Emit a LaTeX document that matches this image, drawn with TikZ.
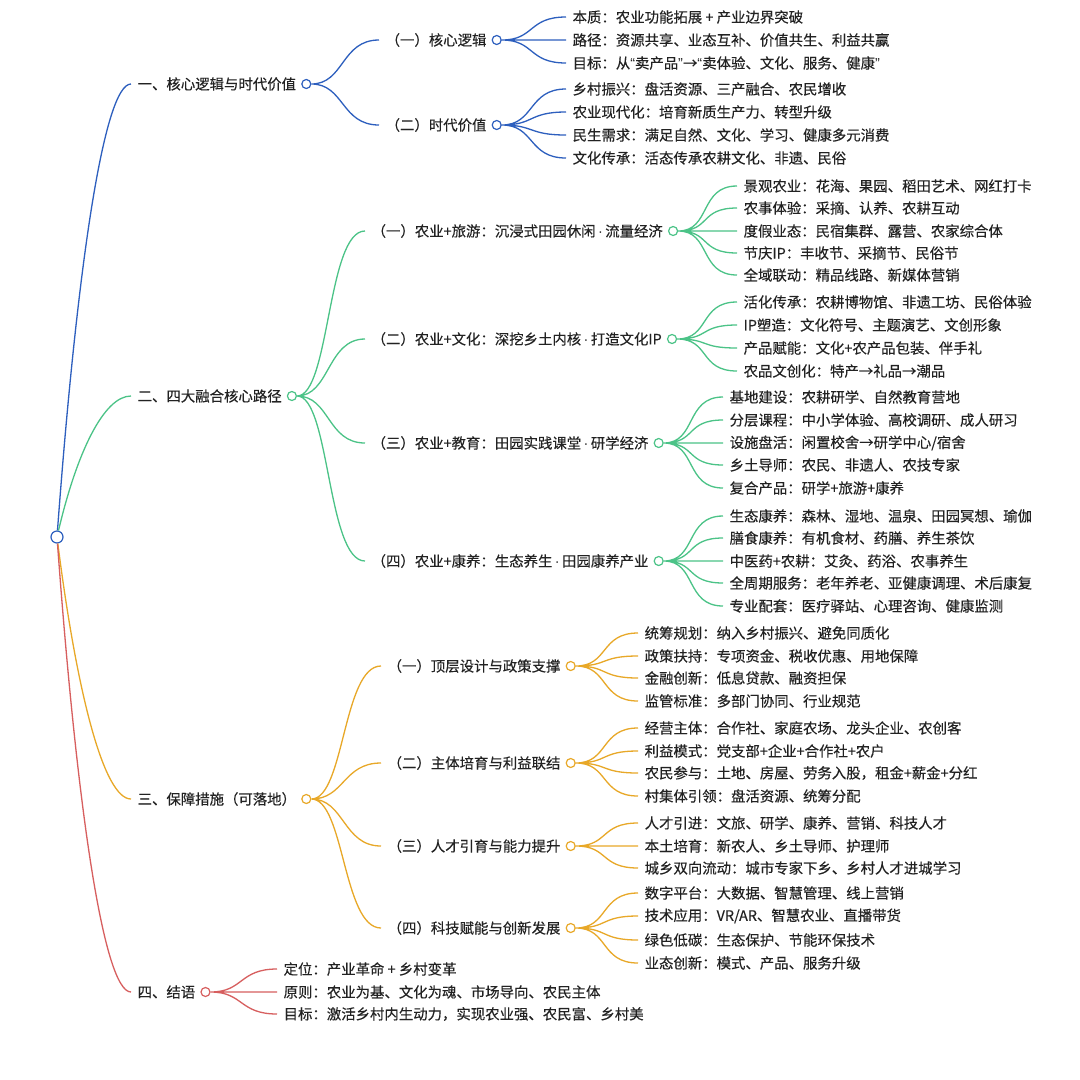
\documentclass[tikz,border=0pt]{standalone}
\usepackage{fontspec}
\setmainfont{Noto Sans CJK SC}[FakeBold=0.25]
\newfontfamily\latinfont{Liberation Sans}
\usepackage{tikz}
\usetikzlibrary{positioning}
\definecolor{mapblue}{RGB}{45,95,190}
\definecolor{mapgreen}{RGB}{75,195,135}
\definecolor{maporange}{RGB}{232,168,40}
\definecolor{mapred}{RGB}{215,95,95}
\definecolor{mapink}{RGB}{34,34,34}
\newcommand{\mdot}{{\latinfont\,·\,}}

\begin{document}
\begin{tikzpicture}[x=1pt,y=-1pt,line width=1.3pt,
  every node/.style={text=mapink,font=\fontsize{14.4}{16}\selectfont},
  txt/.style={anchor=west,inner xsep=6pt,inner ysep=1pt},
  knob/.style={circle,draw=#1,fill=white,line width=1.2pt,minimum size=9pt,inner sep=0pt},
  fan/.style={to path={.. controls +(38,0) and +(-38,0) .. (\tikztotarget)}}]
  \fill[white](0,0)rectangle(1080,1080);
  \useasboundingbox(0,0)rectangle(1080,1080);

  \node[knob=mapblue,minimum size=12pt] (root) at (57,537) {};

  \node[txt] (a) at (131,84) {一、核心逻辑与时代价值};
  \node[knob=mapblue,right=-1.5pt of a] (ao) {};
  \node[txt] (a1) at (379,40) {（一）核心逻辑};
  \node[knob=mapblue,right=-1.5pt of a1] (a1o) {};
  \node[txt] (a2) at (379,125) {（二）时代价值};
  \node[knob=mapblue,right=-1.5pt of a2] (a2o) {};
  \node[txt] (a11) at (566,17) {本质：农业功能拓展 + 产业边界突破};
  \node[txt] (a12) at (566,40) {路径：资源共享、业态互补、价值共生、利益共赢};
  \node[txt] (a13) at (566,63) {目标：从{\latinfont“}卖产品{\latinfont”}→{\latinfont“}卖体验、文化、服务、健康{\latinfont”}};
  \node[txt] (a21) at (566,89) {乡村振兴：盘活资源、三产融合、农民增收};
  \node[txt] (a22) at (566,112) {农业现代化：培育新质生产力、转型升级};
  \node[txt] (a23) at (566,135) {民生需求：满足自然、文化、学习、健康多元消费};
  \node[txt] (a24) at (566,158) {文化传承：活态传承农耕文化、非遗、民俗};

  \node[txt] (b) at (131,396) {二、四大融合核心路径};
  \node[knob=mapgreen,right=-1.5pt of b] (bo) {};
  \node[txt] (b1) at (365,231) {（一）农业+旅游：沉浸式田园休闲\mdot 流量经济};
  \node[knob=mapgreen,right=-1.5pt of b1] (b1o) {};
  \node[txt] (b2) at (365,339) {（二）农业+文化：深挖乡土内核\mdot 打造文化IP};
  \node[knob=mapgreen,right=-1.5pt of b2] (b2o) {};
  \node[txt] (b3) at (365,443) {（三）农业+教育：田园实践课堂\mdot 研学经济};
  \node[knob=mapgreen,right=-1.5pt of b3] (b3o) {};
  \node[txt] (b4) at (365,561) {（四）农业+康养：生态养生\mdot 田园康养产业};
  \node[knob=mapgreen,right=-1.5pt of b4] (b4o) {};
  \node[txt] (b11) at (737,186) {景观农业：花海、果园、稻田艺术、网红打卡};
  \node[txt] (b12) at (737,208) {农事体验：采摘、认养、农耕互动};
  \node[txt] (b13) at (737,231) {度假业态：民宿集群、露营、农家综合体};
  \node[txt] (b14) at (737,253) {节庆IP：丰收节、采摘节、民俗节};
  \node[txt] (b15) at (737,275) {全域联动：精品线路、新媒体营销};
  \node[txt] (b21) at (737,302) {活化传承：农耕博物馆、非遗工坊、民俗体验};
  \node[txt] (b22) at (737,325) {IP塑造：文化符号、主题演艺、文创形象};
  \node[txt] (b23) at (737,348) {产品赋能：文化+农产品包装、伴手礼};
  \node[txt] (b24) at (737,371) {农品文创化：特产→礼品→潮品};
  \node[txt] (b31) at (723,397) {基地建设：农耕研学、自然教育营地};
  \node[txt] (b32) at (723,420) {分层课程：中小学体验、高校调研、成人研习};
  \node[txt] (b33) at (723,443) {设施盘活：闲置校舍→研学中心/宿舍};
  \node[txt] (b34) at (723,465) {乡土导师：农民、非遗人、农技专家};
  \node[txt] (b35) at (723,488) {复合产品：研学+旅游+康养};
  \node[txt] (b41) at (723,516) {生态康养：森林、湿地、温泉、田园冥想、瑜伽};
  \node[txt] (b42) at (723,538) {膳食康养：有机食材、药膳、养生茶饮};
  \node[txt] (b43) at (723,561) {中医药+农耕：艾灸、药浴、农事养生};
  \node[txt] (b44) at (723,583) {全周期服务：老年养老、亚健康调理、术后康复};
  \node[txt] (b45) at (723,606) {专业配套：医疗驿站、心理咨询、健康监测};

  \node[txt] (c) at (131,799) {三、保障措施（可落地）};
  \node[knob=maporange,right=-1.5pt of c] (co) {};
  \node[txt] (c1) at (381,666) {（一）顶层设计与政策支撑};
  \node[knob=maporange,right=-1.5pt of c1] (c1o) {};
  \node[txt] (c2) at (381,763) {（二）主体培育与利益联结};
  \node[knob=maporange,right=-1.5pt of c2] (c2o) {};
  \node[txt] (c3) at (381,846) {（三）人才引育与能力提升};
  \node[knob=maporange,right=-1.5pt of c3] (c3o) {};
  \node[txt] (c4) at (381,928) {（四）科技赋能与创新发展};
  \node[knob=maporange,right=-1.5pt of c4] (c4o) {};
  \node[txt] (c11) at (638,633) {统筹规划：纳入乡村振兴、避免同质化};
  \node[txt] (c12) at (638,656) {政策扶持：专项资金、税收优惠、用地保障};
  \node[txt] (c13) at (638,678) {金融创新：低息贷款、融资担保};
  \node[txt] (c14) at (638,701) {监管标准：多部门协同、行业规范};
  \node[txt] (c21) at (638,728) {经营主体：合作社、家庭农场、龙头企业、农创客};
  \node[txt] (c22) at (638,751) {利益模式：党支部+企业+合作社+农户};
  \node[txt] (c23) at (638,773) {农民参与：土地、房屋、劳务入股，租金+薪金+分红};
  \node[txt] (c24) at (638,796) {村集体引领：盘活资源、统筹分配};
  \node[txt] (c31) at (638,823) {人才引进：文旅、研学、康养、营销、科技人才};
  \node[txt] (c32) at (638,846) {本土培育：新农人、乡土导师、护理师};
  \node[txt] (c33) at (638,868) {城乡双向流动：城市专家下乡、乡村人才进城学习};
  \node[txt] (c41) at (638,893) {数字平台：大数据、智慧管理、线上营销};
  \node[txt] (c42) at (638,916) {技术应用：VR/AR、智慧农业、直播带货};
  \node[txt] (c43) at (638,940) {绿色低碳：生态保护、节能环保技术};
  \node[txt] (c44) at (638,963) {业态创新：模式、产品、服务升级};

  \node[txt] (d) at (131,992) {四、结语};
  \node[knob=mapred,right=-1.5pt of d] (do) {};
  \node[txt] (d1) at (277,969) {定位：产业革命 + 乡村变革};
  \node[txt] (d2) at (277,992) {原则：农业为基、文化为魂、市场导向、农民主体};
  \node[txt] (d3) at (277,1014) {目标：激活乡村内生动力，实现农业强、农民富、乡村美};

  \draw[mapblue] (root) .. controls +(20,-270) and +(-27,0) .. (a.west);
  \draw[mapgreen] (root) .. controls +(20,-85) and +(-27,0) .. (b.west);
  \draw[maporange] (root) .. controls +(20,157) and +(-27,0) .. (c.west);
  \draw[mapred] (root) .. controls +(20,273) and +(-27,0) .. (d.west);

  \draw[mapblue] (ao) to[fan] (a1.west) (ao) to[fan] (a2.west);
  \draw[mapblue] (a1o) to[fan] (a11.west) (a1o) to[fan] (a12.west) (a1o) to[fan] (a13.west);
  \draw[mapblue] (a2o) to[fan] (a21.west) (a2o) to[fan] (a22.west) (a2o) to[fan] (a23.west) (a2o) to[fan] (a24.west);

  \draw[mapgreen] (bo) to[fan] (b1.west) (bo) to[fan] (b2.west) (bo) to[fan] (b3.west) (bo) to[fan] (b4.west);
  \draw[mapgreen] (b1o) to[fan] (b11.west) (b1o) to[fan] (b12.west) (b1o) to[fan] (b13.west) (b1o) to[fan] (b14.west) (b1o) to[fan] (b15.west);
  \draw[mapgreen] (b2o) to[fan] (b21.west) (b2o) to[fan] (b22.west) (b2o) to[fan] (b23.west) (b2o) to[fan] (b24.west);
  \draw[mapgreen] (b3o) to[fan] (b31.west) (b3o) to[fan] (b32.west) (b3o) to[fan] (b33.west) (b3o) to[fan] (b34.west) (b3o) to[fan] (b35.west);
  \draw[mapgreen] (b4o) to[fan] (b41.west) (b4o) to[fan] (b42.west) (b4o) to[fan] (b43.west) (b4o) to[fan] (b44.west) (b4o) to[fan] (b45.west);

  \draw[maporange] (co) to[fan] (c1.west) (co) to[fan] (c2.west) (co) to[fan] (c3.west) (co) to[fan] (c4.west);
  \draw[maporange] (c1o) to[fan] (c11.west) (c1o) to[fan] (c12.west) (c1o) to[fan] (c13.west) (c1o) to[fan] (c14.west);
  \draw[maporange] (c2o) to[fan] (c21.west) (c2o) to[fan] (c22.west) (c2o) to[fan] (c23.west) (c2o) to[fan] (c24.west);
  \draw[maporange] (c3o) to[fan] (c31.west) (c3o) to[fan] (c32.west) (c3o) to[fan] (c33.west);
  \draw[maporange] (c4o) to[fan] (c41.west) (c4o) to[fan] (c42.west) (c4o) to[fan] (c43.west) (c4o) to[fan] (c44.west);

  \draw[mapred] (do) to[fan] (d1.west) (do) to[fan] (d2.west) (do) to[fan] (d3.west);
\end{tikzpicture}
\end{document}
